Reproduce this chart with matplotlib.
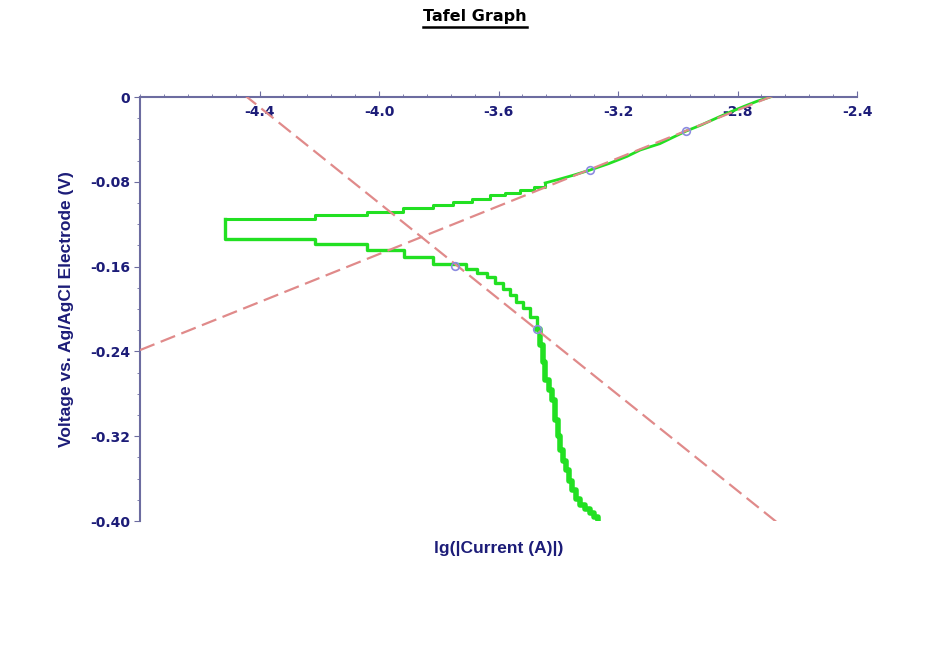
import numpy as np
import matplotlib
matplotlib.use("Agg")
import matplotlib.pyplot as plt
from matplotlib.lines import Line2D

plt.rcParams['axes.unicode_minus'] = False

# anodic branch (upper), lg|I| vs V - stepped low-current part
anodic_step_x = [-4.515, -4.214, -4.040, -3.920, -3.819, -3.752, -3.690, -3.628, -3.580, -3.528,
                 -3.480, -3.444]
anodic_step_v = [-0.1151, -0.1113, -0.1085, -0.1047, -0.1019, -0.0991, -0.0960, -0.0925, -0.0905,
                 -0.0877, -0.0850, -0.0811]
# anodic branch, smooth high-current part
anodic_x = [-3.444, -3.400, -3.350, -3.294, -3.230, -3.170, -3.126, -3.060, -3.010,
            -2.972, -2.920, -2.870, -2.825, -2.780, -2.735, -2.691]
anodic_v = [-0.0811, -0.0778, -0.0738, -0.0689, -0.0627, -0.0560, -0.0500, -0.0440, -0.0372,
            -0.0321, -0.0262, -0.0198, -0.0142, -0.0090, -0.0040, 0.0]

# cathodic branch (lower)
cathodic_x = [-4.515, -4.515, -4.214, -4.040, -3.915, -3.819, -3.740, -3.710, -3.673, -3.640,
              -3.612, -3.585, -3.562, -3.540, -3.519, -3.495, -3.471]
cathodic_v = [-0.1151, -0.134, -0.1387, -0.1443, -0.151, -0.1575, -0.158, -0.162, -0.166, -0.170,
              -0.175, -0.181, -0.187, -0.193, -0.199, -0.208, -0.219]
# cathodic tail (mass-transport region)
tail_x = [-3.471, -3.461, -3.452, -3.444, -3.432, -3.421, -3.411, -3.402, -3.394, -3.384,
          -3.374, -3.364, -3.354, -3.340, -3.327, -3.310, -3.294, -3.280, -3.267]
tail_v = [-0.219, -0.234, -0.250, -0.267, -0.276, -0.286, -0.305, -0.320, -0.333, -0.343,
          -0.352, -0.362, -0.371, -0.379, -0.385, -0.389, -0.392, -0.396, -0.399]

# Tafel fit lines: V = slope * (lg|I| - x0)
fit_slopes = [0.1132, -0.2262]
fit_x0 = [-2.691, -4.442]

# fit range markers
marker_x = [-3.294, -2.972, -3.746, -3.471]
marker_v = [-0.0689, -0.0321, -0.159, -0.219]

xticks = [-4.4, -4.0, -3.6, -3.2, -2.8, -2.4]
yticks = [0, -0.08, -0.16, -0.24, -0.32, -0.40]
ytick_labels = ['0', '-0.08', '-0.16', '-0.24', '-0.32', '-0.40']

navy = '#1c1c78'
axis_col = '#6c6ca0'
green = '#22e022'

fig = plt.figure(figsize=(9.5, 6.52), dpi=100)
ax = fig.add_axes([0.1474, 0.2009, 0.7548, 0.6503])

ax.plot(anodic_step_x, anodic_step_v, drawstyle='steps-post', color=green, lw=2.2, zorder=3)
ax.plot(anodic_x, anodic_v, color=green, lw=2.0, zorder=3)
ax.plot(cathodic_x, cathodic_v, drawstyle='steps-post', color=green, lw=2.4, zorder=3)
ax.plot(tail_x, tail_v, drawstyle='steps-post', color=green, lw=4, zorder=3)

xs = np.array([-4.8, -2.4])
for s, x0 in zip(fit_slopes, fit_x0):
    ax.plot(xs, s * (xs - x0), color='#e08a8a', lw=1.6, dashes=(7, 3), zorder=4)

ax.plot(marker_x, marker_v, 'o', ms=5.5, mfc='none', mec='#8c8ce0', mew=1.2, zorder=5)

ax.set_xlim(-4.8, -2.4)
ax.set_ylim(-0.40, 0)

ax.spines['right'].set_visible(False)
ax.spines['top'].set_visible(False)
ax.spines['bottom'].set_position(('data', 0))
ax.spines['bottom'].set_color(axis_col)
ax.spines['left'].set_color(axis_col)
ax.spines['bottom'].set_linewidth(1.5)
ax.spines['left'].set_linewidth(1.5)

ax.set_xticks(xticks)
ax.set_xticks(np.arange(-4.8, -2.39, 0.08), minor=True)
ax.set_yticks(yticks)
ax.set_yticklabels(ytick_labels)
ax.set_yticks(np.arange(-0.40, 0.001, 0.02), minor=True)

ax.tick_params(axis='x', which='major', direction='in', length=4, color=axis_col,
               labelsize=10, labelcolor=navy, pad=6)
ax.tick_params(axis='x', which='minor', direction='in', length=2.5, color=axis_col)
ax.tick_params(axis='y', which='major', direction='out', length=4, color=axis_col,
               labelsize=10, labelcolor=navy, pad=3)
ax.tick_params(axis='y', which='minor', direction='out', length=2, color=axis_col)
for lab in ax.get_xticklabels() + ax.get_yticklabels():
    lab.set_fontweight('bold')

ax.set_ylabel('Voltage vs. Ag/AgCl Electrode (V)', fontsize=12.5, fontweight='bold',
              color=navy, family='Liberation Sans', labelpad=12)
ax.text(0.5, -0.065, 'lg(|Current (A)|)', transform=ax.transAxes, ha='center', va='center',
        fontsize=12.5, fontweight='bold', color=navy, family='Liberation Sans')

title = fig.text(0.5, 1 - 17 / 652, 'Tafel Graph', ha='center', va='center',
                 fontsize=11.5, fontweight='bold', color='black')
fig.canvas.draw()
bb = title.get_window_extent()
fig.add_artist(Line2D([bb.x0 / 950, bb.x1 / 950], [(bb.y0 - 2) / 652, (bb.y0 - 2) / 652],
                      color='black', lw=1.8, transform=fig.transFigure))

fig.savefig('out.png', dpi=100)
